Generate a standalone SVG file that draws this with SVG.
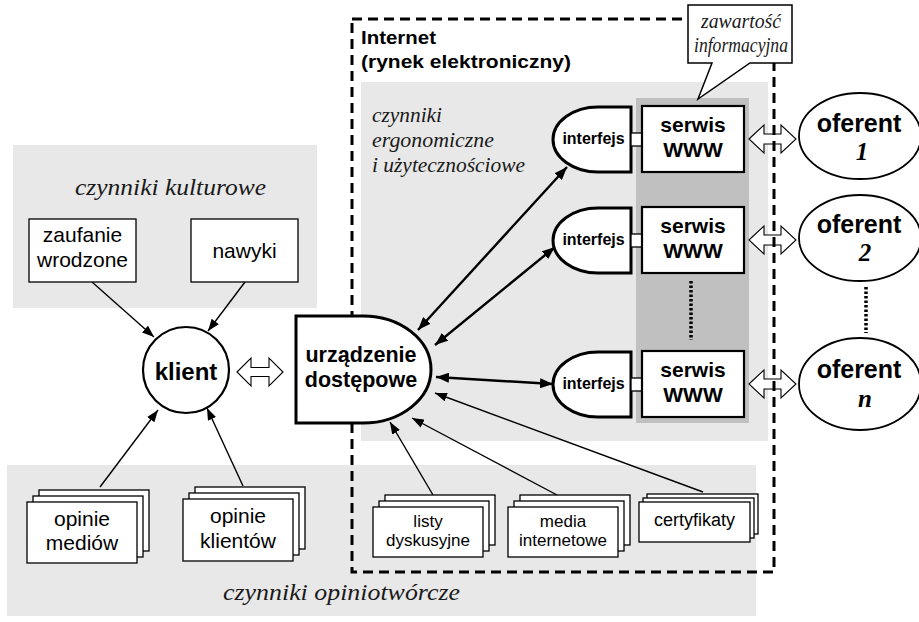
<svg xmlns="http://www.w3.org/2000/svg" width="919" height="622" viewBox="0 0 919 622">
<style>
.bg{fill:#e8e8e8}
.col{fill:#c0c0c0}
.box{fill:#fff;stroke:#000;stroke-width:1.3}
.thick{fill:#fff;stroke:#000;stroke-width:3}
.srv{fill:#fff;stroke:#000;stroke-width:2.2}
.sans{font-family:"Liberation Sans",Arial,sans-serif;fill:#000}
.b{font-weight:bold}
.ser{font-family:"Liberation Serif","Times New Roman",serif;font-style:italic;fill:#1a1a1a}
.thin{stroke:#000;stroke-width:1.4;fill:none}
.bold{stroke:#000;stroke-width:2.4;fill:none}
.hollow{fill:#fff;stroke:#000;stroke-width:1.1}
.dots{stroke:#000;stroke-width:3.5;stroke-dasharray:2.5,2;fill:none}
</style>
<defs>
<marker id="ah" markerUnits="userSpaceOnUse" markerWidth="13" markerHeight="10" refX="13" refY="5" orient="auto-start-reverse"><path d="M0,0 L13,5 L0,10 z" fill="#000"/></marker>
<marker id="at" markerUnits="userSpaceOnUse" markerWidth="12" markerHeight="9" refX="12" refY="4.5" orient="auto"><path d="M0,0 L12,4.5 L0,9 z" fill="#000"/></marker>
</defs>

<!-- background regions -->
<rect class="bg" x="13" y="145" width="304" height="163"/>
<rect class="bg" x="7" y="465" width="749" height="151"/>
<rect class="bg" x="361" y="82" width="407" height="359"/>
<rect class="col" x="636" y="98" width="113" height="325"/>

<text class="ser" x="170.5" y="195" font-size="23" text-anchor="middle" textLength="191" lengthAdjust="spacingAndGlyphs">czynniki kulturowe</text>
<text class="ser" x="341.5" y="600" font-size="23" text-anchor="middle" textLength="237" lengthAdjust="spacingAndGlyphs">czynniki opiniotwórcze</text>
<text class="ser" x="372" y="122" font-size="21" textLength="70" lengthAdjust="spacingAndGlyphs">czynniki</text>
<text class="ser" x="372" y="147" font-size="21" textLength="122" lengthAdjust="spacingAndGlyphs">ergonomiczne</text>
<text class="ser" x="372" y="172" font-size="21" textLength="153" lengthAdjust="spacingAndGlyphs">i użytecznościowe</text>

<!-- hollow arrows -->
<g id="hollow-arrows">
<polygon class="hollow" points="237,372 251,358 251,367.5 269,367.5 269,358 283,372 269,386 269,376.5 251,376.5 251,386"/>
<polygon class="hollow" points="749,139 764,125 764,134 781,134 781,125 796,139 781,153 781,144 764,144 764,153"/>
<polygon class="hollow" points="749,240 764,226 764,235 781,235 781,226 796,240 781,254 781,245 764,245 764,254"/>
<polygon class="hollow" points="749,384 764,370 764,379 781,379 781,370 796,384 781,398 781,389 764,389 764,398"/>
</g>

<!-- Internet dashed frame -->
<g id="internet">
<rect x="352" y="19" width="422" height="553" fill="none" stroke="#000" stroke-width="3" stroke-dasharray="10,6"/>
<text class="sans b" x="361" y="44" font-size="19" textLength="75" lengthAdjust="spacingAndGlyphs">Internet</text>
<text class="sans b" x="361" y="68" font-size="19" textLength="210" lengthAdjust="spacingAndGlyphs">(rynek elektroniczny)</text>
</g>

<!-- connectors -->
<g id="connectors">
<line class="thin" x1="92" y1="282" x2="154" y2="337" marker-end="url(#at)"/>
<line class="thin" x1="245" y1="282" x2="208" y2="331" marker-end="url(#at)"/>
<line class="thin" x1="100" y1="487" x2="158" y2="410" marker-end="url(#at)"/>
<line class="thin" x1="243" y1="486" x2="207" y2="408" marker-end="url(#at)"/>
<line class="thin" x1="433" y1="495" x2="390" y2="422" marker-end="url(#at)"/>
<line class="thin" x1="557" y1="495" x2="412" y2="418" marker-end="url(#at)"/>
<line class="thin" x1="703" y1="492" x2="435" y2="393" marker-end="url(#at)"/>
<line class="bold" x1="418" y1="330" x2="567" y2="167" marker-start="url(#ah)" marker-end="url(#ah)"/>
<line class="bold" x1="435" y1="345" x2="555" y2="247" marker-start="url(#ah)" marker-end="url(#ah)"/>
<line class="bold" x1="436" y1="377" x2="553" y2="384" marker-start="url(#ah)" marker-end="url(#ah)"/>
<line class="dots" x1="691" y1="281" x2="691" y2="340"/>
<line class="dots" x1="866" y1="287" x2="866" y2="333"/>
</g>

<!-- cultural factors -->
<g id="zaufanie">
<rect class="box" x="29" y="219" width="107" height="63"/>
<text class="sans" x="82.5" y="242" font-size="21" text-anchor="middle">zaufanie</text>
<text class="sans" x="82.5" y="267" font-size="21" text-anchor="middle">wrodzone</text>
</g>
<g id="nawyki">
<rect class="box" x="191" y="219" width="107" height="63"/>
<text class="sans" x="244.5" y="258" font-size="21" text-anchor="middle">nawyki</text>
</g>

<g id="klient">
<circle cx="186" cy="370" r="43" fill="#fff" stroke="#000" stroke-width="2.2"/>
<text class="sans b" x="186" y="380" font-size="24" text-anchor="middle">klient</text>
</g>

<g id="urzadzenie">
<path class="thick" stroke-width="3.5" d="M296,316 H363 A68,53.5 0 0 1 363,423 H296 Z"/>
<text class="sans b" x="361" y="362" font-size="21.5" text-anchor="middle">urządzenie</text>
<text class="sans b" x="361" y="387" font-size="21.5" text-anchor="middle">dostępowe</text>
</g>

<!-- opinion stacks -->
<g id="opinie-mediow">
<rect class="box" x="39" y="490" width="110" height="61"/>
<rect class="box" x="33" y="496" width="110" height="61"/>
<rect class="box" x="27" y="502" width="110" height="61"/>
<text class="sans" x="82" y="526" font-size="21" text-anchor="middle">opinie</text>
<text class="sans" x="82" y="550" font-size="21" text-anchor="middle">mediów</text>
</g>
<g id="opinie-klientow">
<rect class="box" x="195" y="487" width="110" height="62"/>
<rect class="box" x="189" y="493" width="110" height="62"/>
<rect class="box" x="183" y="499" width="110" height="62"/>
<text class="sans" x="238" y="523" font-size="21" text-anchor="middle">opinie</text>
<text class="sans" x="238" y="548" font-size="21" text-anchor="middle">klientów</text>
</g>
<g id="listy">
<rect class="box" x="385" y="495" width="110" height="50"/>
<rect class="box" x="379" y="501" width="110" height="50"/>
<rect class="box" x="373" y="507" width="110" height="50"/>
<text class="sans" x="428" y="527" font-size="17" text-anchor="middle">listy</text>
<text class="sans" x="428" y="546" font-size="17" text-anchor="middle">dyskusyjne</text>
</g>
<g id="media">
<rect class="box" x="520" y="495" width="110" height="50"/>
<rect class="box" x="514" y="501" width="110" height="50"/>
<rect class="box" x="508" y="507" width="110" height="50"/>
<text class="sans" x="563" y="527" font-size="17" text-anchor="middle">media</text>
<text class="sans" x="563" y="546" font-size="17" text-anchor="middle">internetowe</text>
</g>
<g id="certyfikaty">
<rect class="box" x="647" y="494" width="111" height="40"/>
<rect class="box" x="643" y="498" width="111" height="40"/>
<rect class="box" x="639" y="502" width="111" height="40"/>
<text class="sans" x="694.5" y="526" font-size="18" text-anchor="middle">certyfikaty</text>
</g>

<!-- interfaces and services -->
<g id="interfejs-1">
<path class="thick" d="M631,107 H598 A45,32.5 0 0 0 598,172 H631 Z"/>
<rect class="box" x="631" y="133" width="11" height="13"/>
<text class="sans b" x="593.5" y="144" font-size="16" text-anchor="middle">interfejs</text>
</g>
<g id="serwis-1">
<rect class="srv" x="642" y="106" width="102" height="66"/>
<text class="sans b" x="693" y="132" font-size="21" text-anchor="middle">serwis</text>
<text class="sans b" x="693" y="157" font-size="21" text-anchor="middle">WWW</text>
</g>
<g id="interfejs-2">
<path class="thick" d="M631,208 H598 A45,32.5 0 0 0 598,273 H631 Z"/>
<rect class="box" x="631" y="234" width="11" height="13"/>
<text class="sans b" x="593.5" y="245" font-size="16" text-anchor="middle">interfejs</text>
</g>
<g id="serwis-2">
<rect class="srv" x="642" y="207" width="102" height="66"/>
<text class="sans b" x="693" y="233" font-size="21" text-anchor="middle">serwis</text>
<text class="sans b" x="693" y="258" font-size="21" text-anchor="middle">WWW</text>
</g>
<g id="interfejs-n">
<path class="thick" d="M631,352 H598 A45,32.5 0 0 0 598,417 H631 Z"/>
<rect class="box" x="631" y="378" width="11" height="13"/>
<text class="sans b" x="593.5" y="389" font-size="16" text-anchor="middle">interfejs</text>
</g>
<g id="serwis-n">
<rect class="srv" x="642" y="351" width="102" height="66"/>
<text class="sans b" x="693" y="377" font-size="21" text-anchor="middle">serwis</text>
<text class="sans b" x="693" y="402" font-size="21" text-anchor="middle">WWW</text>
</g>

<!-- offerers -->
<g id="oferent-1">
<ellipse cx="860" cy="136" rx="61" ry="43" fill="#fff" stroke="#000" stroke-width="1.8"/>
<text class="sans b" x="859" y="132" font-size="25" text-anchor="middle">oferent</text>
<text x="862" y="160" font-family="Liberation Serif,serif" font-style="italic" font-weight="bold" font-size="25" text-anchor="middle">1</text>
</g>
<g id="oferent-2">
<ellipse cx="860" cy="238" rx="61" ry="43" fill="#fff" stroke="#000" stroke-width="1.8"/>
<text class="sans b" x="859" y="233" font-size="25" text-anchor="middle">oferent</text>
<text x="865" y="261" font-family="Liberation Serif,serif" font-style="italic" font-weight="bold" font-size="25" text-anchor="middle">2</text>
</g>
<g id="oferent-n">
<ellipse cx="860" cy="384" rx="61" ry="46" fill="#fff" stroke="#000" stroke-width="1.8"/>
<text class="sans b" x="859" y="378" font-size="25" text-anchor="middle">oferent</text>
<text x="865" y="407" font-family="Liberation Serif,serif" font-style="italic" font-weight="bold" font-size="25" text-anchor="middle">n</text>
</g>

<!-- callout -->
<g id="callout">
<path d="M688,5 H792 V63 H750 L698,99 L712,63 H688 Z" fill="#fff" stroke="#000" stroke-width="1.5"/>
<text class="ser" x="741" y="28" font-size="20" text-anchor="middle" textLength="80" lengthAdjust="spacingAndGlyphs">zawartość</text>
<text class="ser" x="741" y="52" font-size="20" text-anchor="middle" textLength="94" lengthAdjust="spacingAndGlyphs">informacyjna</text>
</g>
</svg>
